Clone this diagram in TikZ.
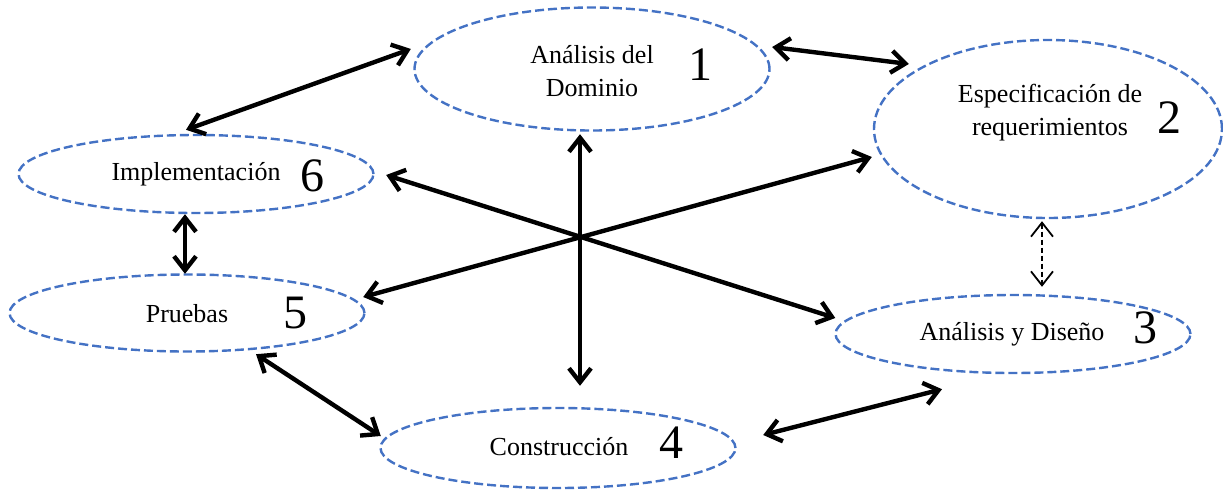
\documentclass[tikz,border=0pt]{standalone}
\usepackage{fontspec}
\setmainfont{Liberation Serif}
\usetikzlibrary{calc,arrows.meta,shapes.geometric}
\definecolor{phaseblue}{HTML}{4472C4}

\begin{document}
\begin{tikzpicture}
  [x=0.5pt, y=-0.5pt,
  phase/.style={ellipse, draw=phaseblue, line width=1.2pt,
    dash pattern=on 4.5pt off 2pt, inner sep=0pt,
    minimum width=177.5pt, minimum height=39pt},
  phasename/.style={align=center, font=\fontsize{13}{16.5}\selectfont},
  phasenum/.style={font=\fontsize{24}{24}\selectfont},
  link/.style={line width=2.2pt, {Straight Barb[length=7pt, width=11pt]}-{Straight Barb[length=7pt, width=11pt]}},
  weaklink/.style={line width=0.9pt, dash pattern=on 2.5pt off 1.5pt,
    {Straight Barb[length=7pt, width=11pt]}-{Straight Barb[length=7pt, width=11pt]}}]

  \useasboundingbox (0,0) rectangle (1223,489);

  \node
  [phase, minimum height=61.5pt]
  (dom) at (592,69) {};

  \node
  [phase, minimum width=174pt, minimum height=89pt]
  (spec) at (1048,129) {};

  \node
  [phase]
  (design) at (1013,334) {};

  \node
  [phase, minimum height=40pt]
  (constr) at (558,448) {};

  \node
  [phase, minimum height=38.5pt]
  (tests) at (187,313) {};

  \node
  [phase]
  (impl) at (196,174) {};

  \node
  [phasename]
  (domName) at ($(dom) + (0,2)$) {Análisis del\\Dominio};

  \node
  [phasenum]
  (domNum) at ($(dom) + (108,-4)$) {1};

  \node
  [phasename]
  (specName) at ($(spec) + (2,-16)$) {Especificación de\\requerimientos};

  \node
  [phasenum]
  (specNum) at ($(spec) + (121,-11)$) {2};

  \node
  [phasename]
  (designName) at ($(design) + (-1,0)$) {Análisis y Diseño};

  \node
  [phasenum]
  (designNum) at ($(design) + (132,-6)$) {3};

  \node
  [phasename]
  (constrName) at ($(constr) + (1,-1)$) {Construcción};

  \node
  [phasenum]
  (constrNum) at ($(constr) + (113,-5)$) {4};

  \node
  [phasename]
  (testsName) at ($(tests) + (0,1)$) {Pruebas};

  \node
  [phasenum]
  (testsNum) at ($(tests) + (108,0)$) {5};

  \node
  [phasename]
  (implName) at (impl) {Implementación};

  \node
  [phasenum]
  (implNum) at ($(impl) + (116,2)$) {6};

  \draw
  [link]
  ($(impl.north) + (-10,-4)$) -- ($(dom.west) + (-2.5,-20)$);

  \draw
  [link]
  ($(dom.east) + (1.5,-22)$) -- ($(spec.west) + (36,-65)$);

  \draw
  [link]
  ($(impl.south) + (-11,0)$) -- ($(tests.north) + (-2,0.5)$);

  \draw
  [weaklink]
  ($(spec.south) + (-6,2)$) -- ($(design.north) + (29,-7)$);

  \draw
  [link]
  ($(dom.south) + (-12,2.5)$) -- ($(constr.north) + (22,-21)$);

  \draw
  [link]
  ($(impl.east) + (11.5,1)$) -- ($(design.west) + (1,-16)$);

  \draw
  [link]
  ($(tests.east) + (-2.5,-16)$) -- ($(spec.west) + (-1,28)$);

  \draw
  [link]
  ($(tests.south) + (69,1.5)$) -- ($(constr.west) + (1.5,-12)$);

  \draw
  [link]
  ($(constr.east) + (26.5,-13)$) -- ($(design.south) + (-71,15)$);
\end{tikzpicture}
\end{document}
